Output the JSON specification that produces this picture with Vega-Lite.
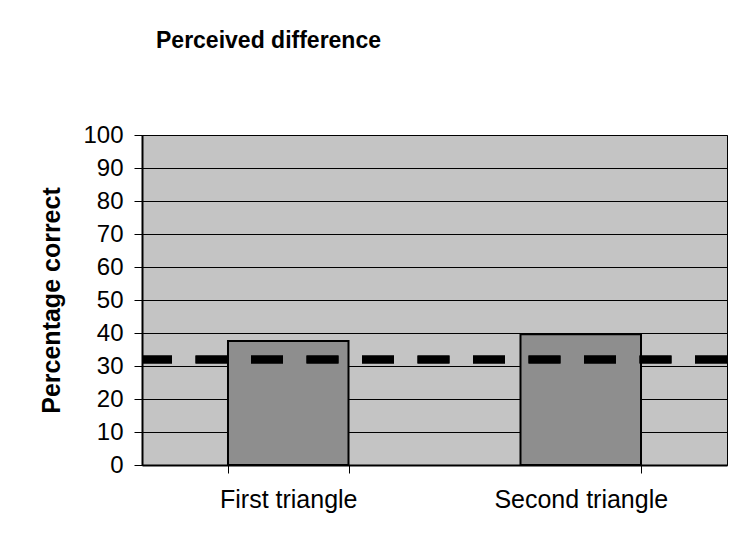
{
  "$schema": "https://vega.github.io/schema/vega-lite/v6.json",
  "width": 585,
  "height": 330,
  "autosize": {"type": "none"},
  "padding": {"left": 142, "top": 135, "right": 7, "bottom": 83},
  "background": "white",
  "title": {
    "text": "Perceived difference",
    "font": "Liberation Sans",
    "fontSize": 23,
    "fontWeight": "bold",
    "color": "black",
    "anchor": "middle",
    "frame": "group",
    "dx": -166,
    "offset": 70
  },
  "config": {
    "view": {"fill": "#c4c4c4", "stroke": "black", "strokeWidth": 1},
    "axis": {
      "labelFont": "Liberation Sans",
      "titleFont": "Liberation Sans",
      "labelColor": "black",
      "titleColor": "black",
      "domainColor": "black",
      "tickColor": "black"
    }
  },
  "data": {
    "values": [
      {"condition": "First triangle", "percent": 37.6},
      {"condition": "Second triangle", "percent": 39.6}
    ]
  },
  "layer": [
    {
      "mark": {"type": "bar", "fill": "#8e8e8e", "stroke": "black", "strokeWidth": 2},
      "encoding": {
        "x": {
          "field": "condition",
          "type": "nominal",
          "sort": null,
          "scale": {"paddingInner": 0.588, "paddingOuter": 0.294},
          "axis": {
            "title": null,
            "labelAngle": 0,
            "labelFontSize": 25,
            "labelPadding": 14,
            "tickBand": "extent",
            "tickSize": 8,
            "tickWidth": 1,
            "domainWidth": 2,
            "grid": false
          }
        },
        "y": {
          "field": "percent",
          "type": "quantitative",
          "scale": {"domain": [0, 100], "nice": false},
          "axis": {
            "title": "Percentage correct",
            "titleFontSize": 25,
            "titleFontWeight": "bold",
            "titlePadding": 18,
            "tickCount": 11,
            "values": [0, 10, 20, 30, 40, 50, 60, 70, 80, 90, 100],
            "labelOverlap": false,
            "labelFontSize": 24,
            "labelPadding": 11,
            "tickSize": 8,
            "tickWidth": 1,
            "domainWidth": 2,
            "grid": true,
            "gridColor": "black",
            "gridWidth": 1,
            "gridOpacity": 1
          }
        }
      }
    },
    {
      "mark": {"type": "rule", "color": "black", "strokeWidth": 8, "strokeDash": [32, 23.5]},
      "encoding": {"y": {"datum": 32}}
    }
  ]
}
